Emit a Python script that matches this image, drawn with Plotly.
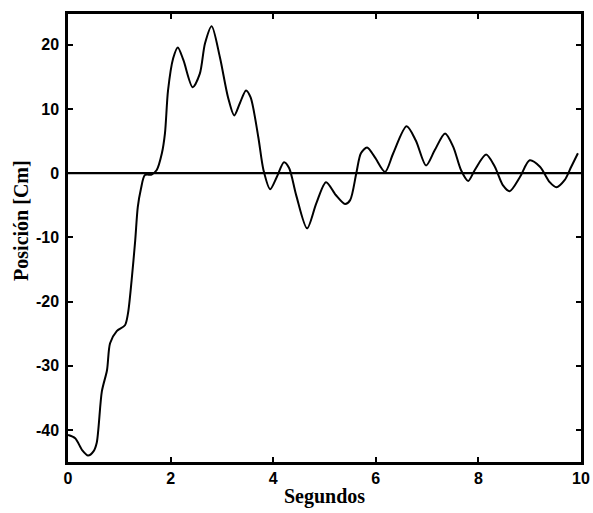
import plotly.graph_objects as go

tiempo = [0.0, 0.14, 0.28, 0.39, 0.50, 0.56, 0.66, 0.76, 0.82, 0.95, 1.11, 1.17, 1.24, 1.31,
          1.36, 1.42, 1.50, 1.63, 1.73, 1.83, 1.89, 1.95, 2.05, 2.14, 2.25, 2.43, 2.57, 2.67,
          2.80, 2.96, 3.12, 3.24, 3.35, 3.47, 3.56, 3.71, 3.81, 3.94, 4.07, 4.21, 4.31, 4.45,
          4.66, 4.84, 5.03, 5.22, 5.40, 5.50, 5.62, 5.71, 5.83, 5.98, 6.18, 6.34, 6.60, 6.78,
          6.98, 7.15, 7.35, 7.51, 7.66, 7.80, 7.93, 8.15, 8.32, 8.48, 8.61, 8.81, 9.00, 9.20,
          9.39, 9.52, 9.68, 9.81, 9.94]
posicion = [-40.8, -41.3, -43.2, -44.0, -43.3, -42.0, -34.0, -30.7, -26.5, -24.6, -23.7, -21.8, -16.7, -10.5,
            -5.3, -2.5, -0.3, -0.2, 0.5, 3.1, 6.2, 12.9, 17.9, 19.6, 17.6, 13.4, 15.5, 20.2,
            22.9, 18.1, 11.8, 9.0, 10.9, 12.9, 11.8, 5.6, 0.5, -2.5, -0.6, 1.7, 0.8, -3.5,
            -8.6, -4.7, -1.4, -3.4, -4.8, -4.2, 0.0, 3.1, 4.0, 2.5, 0.2, 3.1, 7.3, 5.1,
            1.2, 3.6, 6.2, 4.1, 0.5, -1.2, 0.5, 2.9, 1.0, -1.9, -2.8, -0.6, 2.0, 1.0,
            -1.4, -2.2, -1.1, 1.0, 3.1]

x_ticks = [0, 2, 4, 6, 8, 10]
x_tick_labels = ["0", "2", "4", "6", "8", "10"]
y_ticks = [-40, -30, -20, -10, 0, 10, 20]
y_tick_labels = ["-40", "-30", "-20", "-10", "0", "10", "20"]
x_titulo = "Segundos"
y_titulo = "Posición [Cm]"

fig = go.Figure()
fig.add_trace(go.Scatter(x=[0, 10], y=[0, 0], mode="lines",
                         line=dict(color="black", width=2.2), hoverinfo="skip"))
fig.add_trace(go.Scatter(x=tiempo, y=posicion, mode="lines",
                         line=dict(color="black", width=2, shape="spline", smoothing=0.8)))

axis_common = dict(showgrid=False, zeroline=False, showline=True, linecolor="black",
                   linewidth=2.5, mirror="ticks", ticks="inside", ticklen=5,
                   tickwidth=1.5, tickcolor="black", automargin=False,
                   tickfont=dict(family="Liberation Sans", size=16, color="black"))

fig.update_layout(
    width=593, height=513,
    margin=dict(l=68, r=12, t=14, b=51),
    paper_bgcolor="white", plot_bgcolor="white",
    showlegend=False,
    xaxis=dict(range=[0, 10], tickvals=x_ticks,
               ticktext=["<b>" + t + "</b>" for t in x_tick_labels], **axis_common),
    yaxis=dict(range=[-45, 24.8], tickvals=y_ticks,
               ticktext=["<b>" + t + "</b>" for t in y_tick_labels],
               ticklabelstandoff=3, **axis_common),
    annotations=[
        dict(text="<b>" + x_titulo + "</b>", xref="paper", yref="paper", x=0.5, y=-0.078,
             xanchor="center", yanchor="middle", showarrow=False,
             font=dict(family="Liberation Serif", size=20, color="black")),
        dict(text="<b>" + y_titulo + "</b>", xref="paper", yref="paper", x=-0.092, y=0.54,
             xanchor="center", yanchor="middle", textangle=-90, showarrow=False,
             font=dict(family="Liberation Serif", size=20, color="black")),
    ],
)

fig.write_html("out.html")
